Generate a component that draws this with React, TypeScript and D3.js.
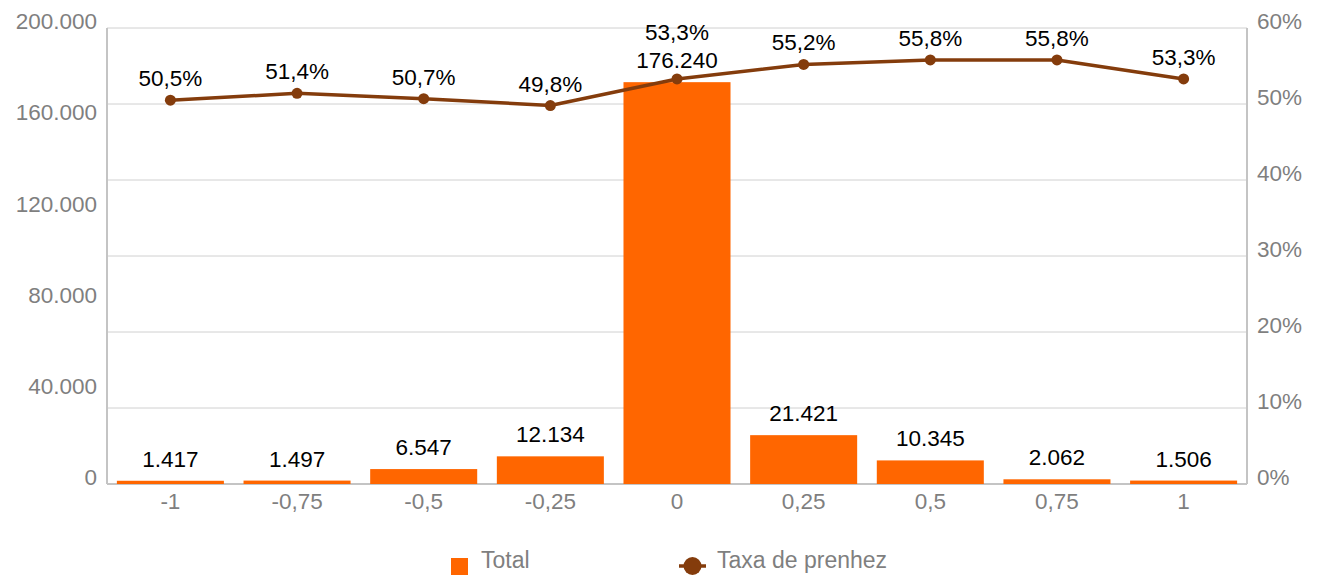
import React from "react";
import * as d3 from "d3";

const categories = ["-1", "-0,75", "-0,5", "-0,25", "0", "0,25", "0,5", "0,75", "1"];
const totals = [1417, 1497, 6547, 12134, 176240, 21421, 10345, 2062, 1506];
const rates = [50.5, 51.4, 50.7, 49.8, 53.3, 55.2, 55.8, 55.8, 53.3];
const leftTicks = [0, 40000, 80000, 120000, 160000, 200000];
const rightTicks = [0, 10, 20, 30, 40, 50, 60];

const W = 1317;
const H = 576;
const margin = { top: 28, right: 70, bottom: 92, left: 107 };
const FONT = "'Liberation Sans', Arial, sans-serif";
const FS = 22.5;
const BAR = "#ff6600";
const LINE = "#843c0c";
const GRID = "#d0d0d0";
const AXIS = "#c4c4c4";
const LABEL = "#7f7f7f";

const fmtInt = (v: number) => d3.format(",")(v).replace(/,/g, ".");
const fmtPct = (v: number) => v.toFixed(1).replace(".", ",") + "%";

const App: React.FC = () => {
  const innerW = W - margin.left - margin.right;
  const innerH = H - margin.top - margin.bottom;
  const x = d3.scaleBand().domain(categories).range([0, innerW]).paddingInner(0.155).paddingOuter(0.078);
  const xc = (c: string) => x(c)! + x.bandwidth() / 2;
  const yL = d3.scaleLinear().domain([0, 200000]).range([innerH, 0]);
  const yR = d3.scaleLinear().domain([0, 60]).range([innerH, 0]);
  const line = d3
    .line<number>()
    .x((_d, i) => xc(categories[i]))
    .y((d) => yR(d));

  return (
    <svg width={W} height={H} style={{ position: "absolute", left: 0, top: 0, fontFamily: FONT }}>
      <g transform={`translate(${margin.left},${margin.top})`}>
        {rightTicks.map((t) => (
          <line key={t} x1={0} x2={innerW} y1={yR(t)} y2={yR(t)} stroke={GRID} strokeWidth={1} />
        ))}
        <line x1={0} x2={0} y1={0} y2={innerH} stroke={AXIS} strokeWidth={2} />
        <line x1={innerW} x2={innerW} y1={0} y2={innerH} stroke={AXIS} strokeWidth={2} />
        <line x1={0} x2={innerW} y1={innerH} y2={innerH} stroke={AXIS} strokeWidth={2} />
        {leftTicks.map((t) => (
          <text key={t} x={-10} y={yL(t)} dy="0.05em" textAnchor="end" fontSize={FS} fill={LABEL}>
            {fmtInt(t)}
          </text>
        ))}
        {rightTicks.map((t) => (
          <text key={t} x={innerW + 10} y={yR(t)} dy="0.05em" textAnchor="start" fontSize={FS} fill={LABEL}>
            {t}%
          </text>
        ))}
        {categories.map((c) => (
          <text key={c} x={xc(c)} y={innerH + 25} textAnchor="middle" fontSize={FS} fill={LABEL}>
            {c}
          </text>
        ))}
        {totals.map((v, i) => (
          <rect
            key={i}
            x={x(categories[i])!}
            y={yL(v)}
            width={x.bandwidth()}
            height={Math.max(innerH - yL(v), 0)}
            fill={BAR}
          />
        ))}
        {totals.map((v, i) => (
          <text key={i} x={xc(categories[i])} y={yL(v) - 14} textAnchor="middle" fontSize={FS} fill="#000">
            {fmtInt(v)}
          </text>
        ))}
        <path d={line(rates)!} fill="none" stroke={LINE} strokeWidth={3.5} strokeLinejoin="round" />
        {rates.map((r, i) => (
          <circle key={i} cx={xc(categories[i])} cy={yR(r)} r={5.5} fill={LINE} />
        ))}
        {rates.map((r, i) => {
          const ly = Math.min(yR(r) - 14, yL(totals[i]) - 14 - 28);
          return (
            <text key={i} x={xc(categories[i])} y={ly} textAnchor="middle" fontSize={FS} fill="#000">
              {fmtPct(r)}
            </text>
          );
        })}
      </g>
      <g transform="translate(451,558)">
        <rect x={0} y={0} width={17} height={17} fill={BAR} />
        <text x={30} y={10} fontSize={23} fill={LABEL}>
          Total
        </text>
      </g>
      <g transform="translate(679,566)">
        <line x1={0} x2={27} y1={0} y2={0} stroke={LINE} strokeWidth={3.5} />
        <circle cx={13.5} cy={0} r={9} fill={LINE} />
        <text x={38} y={2} fontSize={23} fill={LABEL}>
          Taxa de prenhez
        </text>
      </g>
    </svg>
  );
};

export default App;
